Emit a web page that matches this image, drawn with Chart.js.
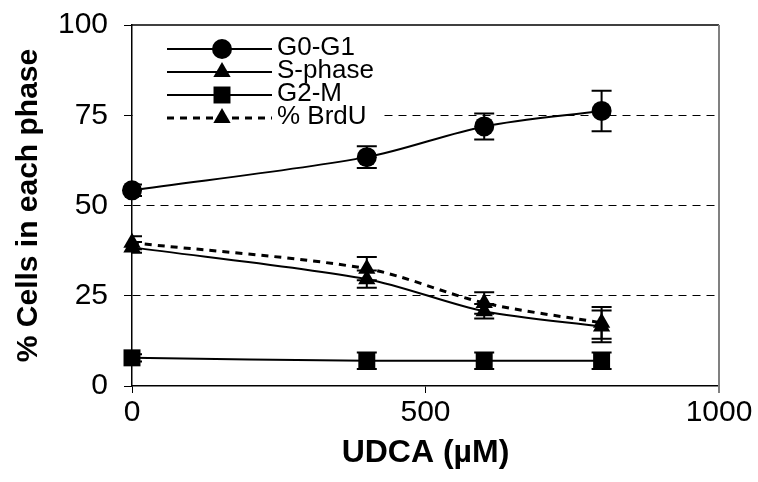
<!DOCTYPE html>
<html>
<head>
<meta charset="utf-8">
<script src="https://cdn.jsdelivr.net/npm/chart.js@4"></script>
<style>
  html, body { margin: 0; padding: 0; background: #fff; }
  #wrap { width: 758px; height: 482px; }
</style>
</head>
<body>
<div id="wrap"><canvas id="canvas"></canvas></div>
<script>
// DATA
const udca = [0, 400, 600, 800];
const g0g1 = [54.2, 63.4, 71.9, 76.2];
const g0g1Err = [1.6, 3.0, 3.6, 5.6];
const sPhase = [38.4, 29.6, 20.7, 16.5];
const sPhaseErr = [1.5, 2.4, 2.0, 4.4];
const g2m = [7.8, 7.0, 7.0, 7.0];
const g2mErr = [1.0, 2.3, 2.3, 2.3];
const brdu = [39.7, 32.5, 23.0, 17.5];
const brduErr = [1.8, 3.2, 3.0, 4.4];
const xTicks = [0, 500, 1000];
const yTicks = [0, 25, 50, 75, 100];

const FONT = "'Liberation Sans', Arial, sans-serif";

function pts(ys) {
    return udca.map((x, i) => ({ x: x, y: ys[i] }));
}

function series(label, ys, errs, style, radius, dash, width) {
    return {
        label: label,
        data: pts(ys),
        errors: errs,
        showLine: true,
        tension: 0.3,
        borderColor: '#000',
        backgroundColor: '#000',
        borderWidth: width,
        borderDash: dash,
        pointStyle: style,
        pointRadius: radius,
        pointHoverRadius: radius,
        pointBorderWidth: 0,
        clip: false
    };
}

// error bars, drawn with the scales
const errorBars = {
    id: 'errorBars',
    afterDatasetsDraw(chart) {
        const ctx = chart.ctx, xs = chart.scales.x, ys = chart.scales.y, a = chart.chartArea;
        ctx.save();
        ctx.beginPath();
        ctx.rect(a.left, a.top - 2, a.right - a.left, a.bottom - a.top + 4);
        ctx.clip();
        ctx.strokeStyle = '#000';
        ctx.lineWidth = 2;
        chart.data.datasets.forEach(ds => {
            ds.data.forEach((p, i) => {
                const e = ds.errors[i];
                const px = xs.getPixelForValue(p.x);
                const top = ys.getPixelForValue(p.y + e);
                const bot = ys.getPixelForValue(p.y - e);
                ctx.beginPath();
                ctx.moveTo(px, top); ctx.lineTo(px, bot);
                ctx.moveTo(px - 10, top); ctx.lineTo(px + 10, top);
                ctx.moveTo(px - 10, bot); ctx.lineTo(px + 10, bot);
                ctx.stroke();
            });
        });
        ctx.restore();
    }
};

// top line, gray right edge and the legend box inside the plot
const frameAndLegend = {
    id: 'frameAndLegend',
    afterDraw(chart) {
        const ctx = chart.ctx, a = chart.chartArea;
        ctx.save();
        ctx.strokeStyle = '#000';
        ctx.lineWidth = 1.5;
        ctx.beginPath();
        ctx.moveTo(a.left, a.top); ctx.lineTo(a.right, a.top);
        ctx.stroke();
        ctx.strokeStyle = '#808080';
        ctx.lineWidth = 2;
        ctx.beginPath();
        ctx.moveTo(a.right, a.top); ctx.lineTo(a.right, a.bottom + 7);
        ctx.stroke();

        // legend
        ctx.fillStyle = '#fff';
        ctx.fillRect(a.left + 1, a.top + 1, 248, 100);
        const x0 = a.left + 35, x1 = a.left + 140, xm = a.left + 90;
        chart.data.datasets.forEach((ds, i) => {
            const y = a.top + 24 + i * 23;
            ctx.strokeStyle = '#000';
            ctx.fillStyle = '#000';
            ctx.lineWidth = ds.borderWidth;
            ctx.setLineDash(ds.borderDash || []);
            ctx.beginPath();
            ctx.moveTo(x0, y); ctx.lineTo(x1, y);
            ctx.stroke();
            ctx.setLineDash([]);
            Chart.helpers.drawPoint(ctx, {
                pointStyle: ds.pointStyle, radius: ds.pointRadius, borderWidth: 0, rotation: 0
            }, xm, y);
            ctx.font = '26px ' + FONT;
            ctx.textBaseline = 'middle';
            ctx.textAlign = 'left';
            ctx.fillText(ds.label, x1 + 5, y - 1);
        });
        ctx.restore();
    }
};

const ctx = document.getElementById('canvas').getContext('2d');

const myChart = new Chart(ctx, {
    type: 'scatter',
    data: {
        datasets: [
            series('G0-G1', g0g1, g0g1Err, 'circle', 10, [], 2),
            series('S-phase', sPhase, sPhaseErr, 'triangle', 10, [], 2),
            series('G2-M', g2m, g2mErr, 'rect', 12, [], 2),
            series('% BrdU', brdu, brduErr, 'triangle', 10, [7, 6], 3)
        ]
    },
    options: {
        responsive: true,
        maintainAspectRatio: false,
        animation: false,
        devicePixelRatio: 1,
        layout: { padding: { left: 11, top: 25, right: 39, bottom: 10 } },
        plugins: { legend: { display: false }, tooltip: { enabled: false } },
        scales: {
            x: {
                type: 'linear',
                min: 0,
                max: 1000,
                afterBuildTicks: s => { s.ticks = xTicks.map(v => ({ value: v })); },
                afterFit: s => { s.height = 86; },
                grid: { drawOnChartArea: false, tickLength: 7, tickColor: '#000', color: '#000' },
                border: { color: '#000', width: 1.5 },
                ticks: {
                    color: '#000', font: { family: FONT, size: 30 }, padding: 2, maxRotation: 0,
                    callback: v => String(v)
                },
                title: {
                    display: true, text: 'UDCA (µM)', color: '#000',
                    font: { family: FONT, size: 32, weight: 'bold' }, padding: 0
                }
            },
            y: {
                min: 0,
                max: 100,
                afterBuildTicks: s => { s.ticks = yTicks.map(v => ({ value: v })); },
                afterFit: s => { s.width = 121; s.paddingTop = 0; s.paddingBottom = 0; },
                grid: {
                    color: c => (c.tick && (c.tick.value === 0 || c.tick.value === 100)) ? 'rgba(0,0,0,0)' : '#000',
                    tickColor: '#000',
                    tickLength: 8,
                    lineWidth: 1
                },
                border: { color: '#000', width: 1.5, dash: [8, 6] },
                ticks: {
                    color: '#000', font: { family: FONT, size: 30 }, padding: 16,
                    callback: v => String(v)
                },
                title: {
                    display: true, text: '% Cells in each phase', color: '#000',
                    font: { family: FONT, size: 30, weight: 'bold' }, padding: 0
                }
            }
        }
    },
    plugins: [errorBars, frameAndLegend]
});
</script>
</body>
</html>
